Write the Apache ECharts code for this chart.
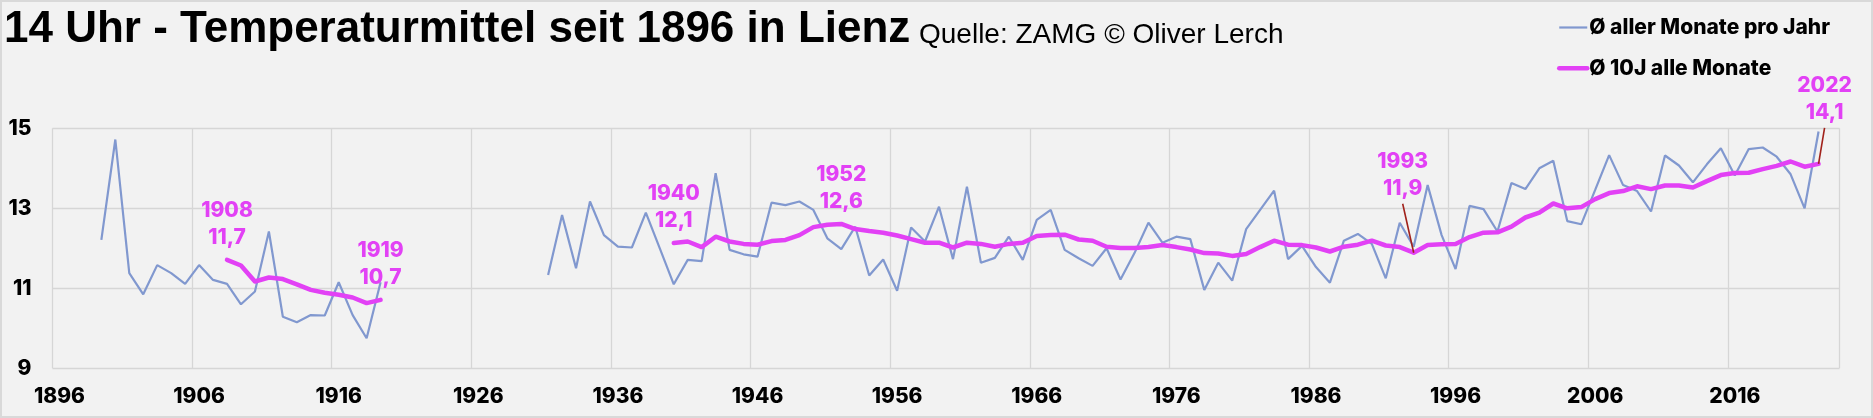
<!DOCTYPE html>
<html>
<head>
<meta charset="utf-8">
<script src="https://cdn.jsdelivr.net/npm/echarts@6/dist/echarts.min.js"></script>
<style>
html,body{margin:0;padding:0;background:#f2f2f2;}
#c{width:1873px;height:418px;}
#frame{position:absolute;left:0;top:0;width:1873px;height:418px;box-sizing:border-box;border:2px solid #d9d9d9;pointer-events:none;}
</style>
</head>
<body>
<div id="c"></div>
<div id="frame"></div>
<script>
// ---- categories (years on the x axis) ----
const firstYear = 1896;
const lastYear = 2023;
const years = [];
for (let y = firstYear; y <= lastYear; y++) years.push(String(y));

const xTickLabels = ['1896','1906','1916','1926','1936','1946','1956','1966','1976','1986','1996','2006','2016'];
const yTicks = [9, 11, 13, 15];

// ---- series: Ø aller Monate pro Jahr (1899 .. 2022, null = no data) ----
const annualStart = 1899;
const annual = [
  12.21, 14.72, 11.38, 10.85, 11.58, 11.38, 11.11, 11.58, 11.21, 11.11, // 1899-1908
  10.60, 10.92, 12.42, 10.29, 10.15, 10.33, 10.32, 11.15, 10.33, 9.75,  // 1909-1918
  11.15,                                                                 // 1919
  null, null, null, null, null, null, null, null, null, null, null,      // 1920-1930
  11.33, 12.83, 11.50, 13.17, 12.33, 12.04, 12.02, 12.89, 12.00, 11.10, // 1931-1940
  11.71, 11.68, 13.88, 11.96, 11.85, 11.79, 13.14, 13.08, 13.17, 12.96, // 1941-1950
  12.25, 11.98, 12.54, 11.32, 11.72, 10.94, 12.52, 12.17, 13.04, 11.73, // 1951-1960
  13.54, 11.64, 11.76, 12.29, 11.71, 12.71, 12.96, 11.96, 11.75, 11.56, // 1961-1970
  12.00, 11.22, 11.88, 12.64, 12.14, 12.29, 12.23, 10.96, 11.64, 11.19, // 1971-1980
  12.48, 12.96, 13.44, 11.73, 12.06, 11.53, 11.14, 12.19, 12.36, 12.11, // 1981-1990
  11.25, 12.64, 12.04, 13.58, 12.33, 11.48, 13.06, 12.98, 12.42, 13.63, // 1991-2000
  13.48, 14.00, 14.19, 12.68, 12.60, 13.46, 14.33, 13.58, 13.43, 12.92, // 2001-2010
  14.32, 14.07, 13.65, 14.10, 14.50, 13.82, 14.48, 14.52, 14.29, 13.85, // 2011-2020
  13.00, 14.92                                                           // 2021-2022
];

// ---- series: Ø 10J alle Monate (1908 .. 2022, null = no data) ----
const avgStart = 1908;
const avg10 = [
  11.71, 11.57, 11.17, 11.27, 11.23, 11.10, 10.96, 10.89, 10.84, 10.77, // 1908-1917
  10.63, 10.71,                                                          // 1918-1919
  null, null, null, null, null, null, null, null, null, null,            // 1920-1929
  null, null, null, null, null, null, null, null, null, null,            // 1930-1939
  12.13, 12.17, 12.03, 12.29, 12.17, 12.11, 12.09, 12.18, 12.21, 12.33, // 1940-1949
  12.53, 12.59, 12.61, 12.48, 12.43, 12.39, 12.32, 12.23, 12.14, 12.14, // 1950-1959
  12.02, 12.14, 12.11, 12.04, 12.11, 12.14, 12.31, 12.33, 12.34, 12.22, // 1960-1969
  12.19, 12.04, 12.01, 12.01, 12.03, 12.08, 12.03, 11.97, 11.88, 11.87, // 1970-1979
  11.81, 11.86, 12.03, 12.19, 12.09, 12.08, 12.02, 11.92, 12.04, 12.09, // 1980-1989
  12.19, 12.07, 12.03, 11.89, 12.08, 12.10, 12.11, 12.28, 12.39, 12.40, // 1990-1999
  12.54, 12.77, 12.89, 13.12, 13.00, 13.03, 13.23, 13.38, 13.43, 13.55, // 2000-2009
  13.48, 13.57, 13.57, 13.52, 13.68, 13.83, 13.88, 13.89, 13.98, 14.06, // 2010-2019
  14.17, 14.04, 14.11                                                    // 2020-2022
];

// ---- annotated years on the 10-year mean ----
const annotatedYears = [1908, 1919, 1940, 1952, 1993, 2022];

const seriesNames = ['Ø aller Monate pro Jahr', 'Ø 10J alle Monate'];
const titleText = '14 Uhr - Temperaturmittel seit 1896 in Lienz';
const sourceText = 'Quelle: ZAMG © Oliver Lerch';

// ---- build ----
function lookup(arr, start, year) {
  const i = year - start;
  return (i >= 0 && i < arr.length) ? arr[i] : null;
}
const annualData = years.map(y => lookup(annual, annualStart, +y));
const avgData = years.map(y => lookup(avg10, avgStart, +y));
const annotData = annotatedYears.map(y => [years.indexOf(String(y)), lookup(avg10, avgStart, y), y]);

const FONT = '"Liberation Sans", Arial, sans-serif';
const FONT2 = 'Inter, "Liberation Sans", Arial, sans-serif';
const W2 = 800;
const BLUE = '#8198cf';
const MAGENTA = '#e241f5';
const GRID = '#d6d6d6';

// label placement (pixel offsets relative to the point)
const annotDefault = { dx: 0, dy: -22, leader: false };
const annotLayout = {
  1993: { dx: -11, dy: -64, leader: true },
  2022: { dx: 6, dy: -51, leader: true }
};

const isTick = (idx, val) => xTickLabels.indexOf(val) >= 0;

const chart = echarts.init(document.getElementById('c'), null, { renderer: 'canvas' });
chart.setOption({
  backgroundColor: '#f2f2f2',
  animation: false,
  title: [
    { text: titleText, left: 4, top: 7.8, padding: 0,
      textStyle: { fontFamily: FONT, fontSize: 44, fontWeight: 'bold', color: '#000' } },
    { text: sourceText, left: 919, top: 21.3, padding: 0,
      textStyle: { fontFamily: FONT, fontSize: 28, fontWeight: 'normal', color: '#000' } }
  ],
  legend: {
    orient: 'vertical', left: 1557, top: 17, padding: 0,
    itemWidth: 28, itemHeight: 14, itemGap: 19.7,
    selectedMode: false,
    data: seriesNames,
    itemStyle: { opacity: 0 },
    lineStyle: { width: 'inherit' },
    textStyle: { fontFamily: FONT2, fontSize: 21, fontWeight: W2, color: '#000', padding: [0, 0, 0, -3] }
  },
  grid: { left: 52.5, right: 33.5, top: 128.3, bottom: 49.7, containLabel: false },
  xAxis: {
    type: 'category', data: years, boundaryGap: true,
    axisLine: { show: false }, axisTick: { show: false },
    axisLabel: { interval: isTick, margin: 18, fontFamily: FONT2, fontSize: 21, fontWeight: W2, color: '#000' },
    splitLine: { show: true, interval: isTick, lineStyle: { color: GRID, width: 1.3 } }
  },
  yAxis: {
    type: 'value', min: yTicks[0], max: yTicks[yTicks.length - 1], interval: yTicks[1] - yTicks[0],
    axisLine: { show: false }, axisTick: { show: false },
    axisLabel: { margin: 21, fontFamily: FONT2, fontSize: 21, fontWeight: W2, color: '#000' },
    splitLine: { show: true, lineStyle: { color: GRID, width: 1.3 } }
  },
  series: [
    { name: seriesNames[0], type: 'line', data: annualData, symbol: 'none', connectNulls: false,
      lineStyle: { color: BLUE, width: 2.2 }, itemStyle: { color: BLUE }, z: 2 },
    { name: seriesNames[1], type: 'line', data: avgData, symbol: 'none', connectNulls: false,
      lineStyle: { color: MAGENTA, width: 4.5, cap: 'round', join: 'round' }, itemStyle: { color: MAGENTA }, z: 3 },
    { type: 'custom', data: annotData, z: 10, silent: true, clip: false,
      encode: { x: 0, y: 1 },
      renderItem: function (params, api) {
        const val = api.value(1);
        const yr = api.value(2);
        const p = api.coord([api.value(0), val]);
        const lay = annotLayout[yr] || annotDefault;
        const cx = p[0] + lay.dx, cy = p[1] + lay.dy;
        const ts = { fill: MAGENTA, fontFamily: FONT2, fontSize: 21, fontWeight: W2, align: 'center', verticalAlign: 'middle' };
        const children = [
          { type: 'text', style: Object.assign({ text: String(yr), x: cx, y: cy - 27 }, ts) },
          { type: 'text', style: Object.assign({ text: val.toFixed(1).replace('.', ','), x: cx, y: cy }, ts) }
        ];
        if (lay.leader) {
          children.push({ type: 'line', shape: { x1: cx, y1: cy + 15, x2: p[0], y2: p[1] },
            style: { stroke: '#a1221b', lineWidth: 1.6 } });
        }
        return { type: 'group', children: children };
      }
    }
  ]
});
</script>
</body>
</html>
